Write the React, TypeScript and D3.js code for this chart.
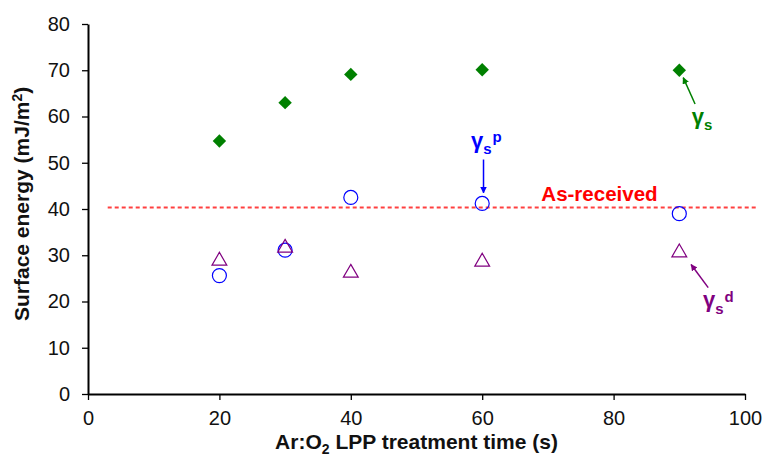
import React, { useEffect, useRef } from 'react';
import * as d3 from 'd3';

// treatment times (s)
const times = [20, 30, 40, 60, 90];
// surface energy components (mJ/m2)
const gammaS = [54.7, 63.0, 69.1, 70.1, 70.0];
const gammaP = [25.6, 31.1, 42.5, 41.2, 39.0];
const gammaD = [29.0, 31.8, 26.4, 28.8, 30.8];
const asReceived = 40.3;
const asReceivedSpan = [3, 102];

const xTicks = [0, 20, 40, 60, 80, 100];
const yTicks = [0, 10, 20, 30, 40, 50, 60, 70, 80];

const FONT = '"Liberation Sans", Arial, sans-serif';
const GREEN = '#008000';
const BLUE = '#0000ff';
const PURPLE = '#800080';
const RED = '#ff0000';

const width = 768;
const height = 460;
const margin = { top: 24, right: 23, bottom: 66, left: 88 };

const App = () => {
  const xAxisRef = useRef<SVGGElement>(null);
  const yAxisRef = useRef<SVGGElement>(null);

  const x = d3.scaleLinear().domain([0, 100]).range([margin.left, width - margin.right]);
  const y = d3.scaleLinear().domain([0, 80]).range([height - margin.bottom, margin.top]);

  useEffect(() => {
    const xAxis = d3.axisBottom(x).tickValues(xTicks).tickSize(6).tickSizeOuter(0).tickPadding(11);
    const yAxis = d3.axisLeft(y).tickValues(yTicks).tickSize(6).tickSizeOuter(0).tickPadding(12);
    const gx = d3.select(xAxisRef.current!).call(xAxis);
    const gy = d3.select(yAxisRef.current!).call(yAxis);
    [gx, gy].forEach(g => {
      g.selectAll('path').attr('stroke', '#000').attr('stroke-width', 2);
      g.selectAll('line').attr('stroke', '#000').attr('stroke-width', 1.3);
      g.selectAll('text').attr('font-size', 20).attr('font-family', FONT).attr('fill', '#111');
    });
  }, []);

  // diamond = square turned 45 degrees
  const diamond = d3.symbol().type(d3.symbolSquare).size(90)();
  const triangle = d3.symbol().type(d3.symbolTriangle).size(95)();

  const arrow = (id: string, color: string) => (
    <marker id={id} viewBox="0 0 10 10" refX="9" refY="5" markerWidth="4.5" markerHeight="4.5" orient="auto-start-reverse">
      <path d="M0,0 L10,5 L0,10 z" fill={color} />
    </marker>
  );

  return (
    <svg width={width} height={height} style={{ display: 'block', position: 'absolute', left: 0, top: 0 }}>
      <defs>
        {arrow('arG', GREEN)}
        {arrow('arB', BLUE)}
        {arrow('arP', PURPLE)}
      </defs>
      <rect width={width} height={height} fill="#fff" />

      {/* as-received reference line */}
      <line x1={x(asReceivedSpan[0])} x2={x(asReceivedSpan[1])} y1={y(asReceived)} y2={y(asReceived)}
        stroke={RED} strokeOpacity={0.75} strokeWidth={2} strokeDasharray="4,3" />
      <text x={x(69)} y={y(asReceived) - 7} fill={RED} fontFamily={FONT} fontWeight="bold" fontSize={20.5}>As-received</text>

      <g ref={xAxisRef} transform={`translate(0,${height - margin.bottom})`} />
      <g ref={yAxisRef} transform={`translate(${margin.left},0)`} />

      {/* series */}
      {times.map((t, i) => (
        <path key={'d' + i} d={diamond!} transform={`translate(${x(t)},${y(gammaS[i])}) rotate(45)`} fill={GREEN} />
      ))}
      {times.map((t, i) => (
        <circle key={'c' + i} cx={x(t)} cy={y(gammaP[i])} r={7} fill="none" stroke={BLUE} strokeWidth={1.2} />
      ))}
      {times.map((t, i) => (
        <path key={'t' + i} d={triangle!} transform={`translate(${x(t)},${y(gammaD[i]) + 1})`} fill="none" stroke={PURPLE} strokeWidth={1.2} />
      ))}

      {/* annotations */}
      <line x1={x(92.4)} y1={y(62.7)} x2={x(90.6)} y2={y(68.4)} stroke={GREEN} strokeWidth={1.5} markerEnd="url(#arG)" />
      <text x={x(91.9)} y={y(58.3)} fill={GREEN} fontFamily={FONT} fontWeight="bold" fontSize={22}>
        γ<tspan fontSize={15} dy={6}>s</tspan>
      </text>

      <line x1={x(60.2)} y1={y(50.7)} x2={x(60.2)} y2={y(43.5)} stroke={BLUE} strokeWidth={1.5} markerEnd="url(#arB)" />
      <text x={x(58.3)} y={y(53.2)} fill={BLUE} fontFamily={FONT} fontWeight="bold" fontSize={22}>
        γ<tspan fontSize={15} dy={6}>s</tspan><tspan fontSize={15} dy={-12} dx={1}>p</tspan>
      </text>

      <line x1={x(94.4)} y1={y(23.0)} x2={x(91.8)} y2={y(28.0)} stroke={PURPLE} strokeWidth={1.5} markerEnd="url(#arP)" />
      <text x={x(93.6)} y={y(18.9)} fill={PURPLE} fontFamily={FONT} fontWeight="bold" fontSize={22}>
        γ<tspan fontSize={15} dy={7}>s</tspan><tspan fontSize={15} dy={-12} dx={1}>d</tspan>
      </text>

      {/* axis titles */}
      <text transform={`translate(29,${y(41.1)}) rotate(-90)`} textAnchor="middle"
        fontFamily={FONT} fontWeight="bold" fontSize={21} fill="#111">
        Surface energy (mJ/m<tspan dy={-7} fontSize={14}>2</tspan><tspan dy={7}>)</tspan>
      </text>
      <text x={x(50)} y={449} textAnchor="middle" fontFamily={FONT} fontWeight="bold" fontSize={21} fill="#111">
        Ar:O<tspan dy={5} fontSize={14}>2</tspan><tspan dy={-5}> LPP treatment time (s)</tspan>
      </text>
    </svg>
  );
};

export default App;
